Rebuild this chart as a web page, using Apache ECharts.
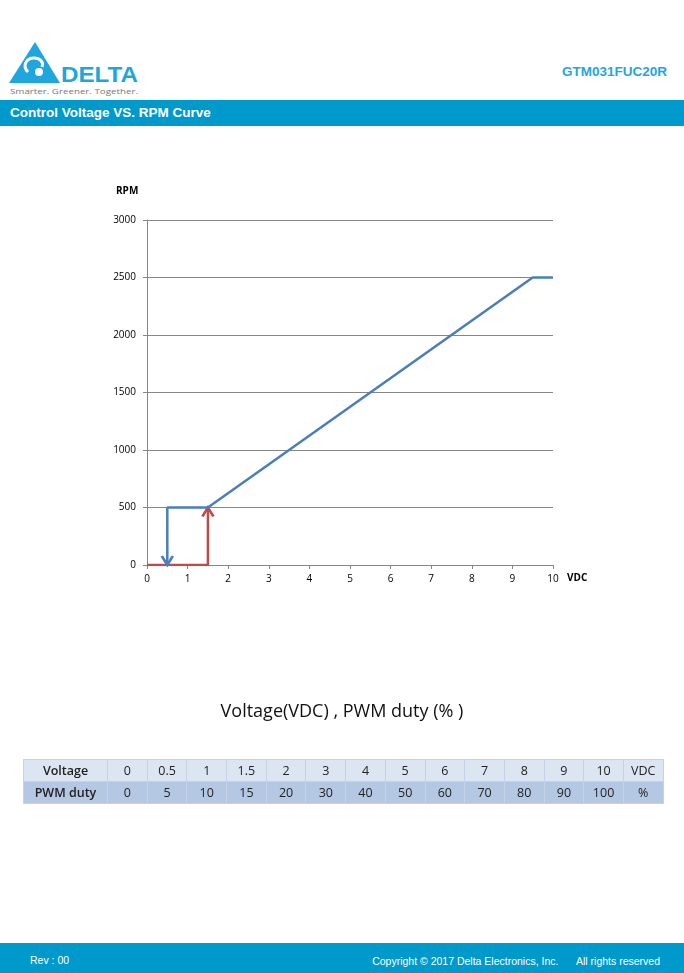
<!DOCTYPE html>
<html><head><meta charset="utf-8">
<script src="https://cdn.jsdelivr.net/npm/echarts@6/dist/echarts.min.js"></script>
<style>
html,body{margin:0;padding:0;background:#fff;}
body{width:684px;height:973px;position:relative;overflow:hidden;font-family:"Liberation Sans",Arial,sans-serif;}
#chart{position:absolute;left:0;top:0;width:684px;height:973px;}
.abs{position:absolute;}
#band{left:0;top:100px;width:684px;height:26px;background:#0099CC;color:#fff;font-weight:bold;font-size:13.5px;line-height:26px;padding-left:10px;box-sizing:border-box;}
#model{right:17px;top:64px;color:#1FA6DF;font-weight:bold;font-size:13.5px;}
#foot{left:0;top:943px;width:684px;height:30px;background:#0099CC;color:#fff;font-size:10.5px;}
#title{left:0;top:698px;width:684px;text-align:center;font-family:"Open Sans",sans-serif;font-size:18px;color:#111;}
table{position:absolute;left:23px;top:759px;border-collapse:collapse;font-family:"Open Sans",sans-serif;font-size:12.5px;color:#222;table-layout:fixed;}
td{border:1px solid #C5D3E8;text-align:center;height:21px;padding:0;}
tr.h td{background:#DCE6F2;}
tr.d td{background:#B4C8E4;}
</style></head><body>
<svg class="abs" style="left:0;top:30px" width="160" height="70">
  <polygon points="35,12 60,53 9,53" fill="#1FA6DF"/>
  <path d="M28,42 C22,36 26,28 34,28 C40,28 44,32 42,37" fill="none" stroke="#fff" stroke-width="3"/>
  <circle cx="39" cy="42" r="4" fill="#fff"/>
  <text x="61" y="52" font-family="Liberation Sans,Arial" font-weight="bold" font-size="22" fill="#1FA6DF" textLength="77" lengthAdjust="spacingAndGlyphs">DELTA</text>
  <text x="10" y="64" font-family="Open Sans,sans-serif" font-size="8" fill="#777" textLength="128" lengthAdjust="spacingAndGlyphs">Smarter.  Greener.  Together.</text>
</svg>
<div id="model" class="abs">GTM031FUC20R</div>
<div id="band" class="abs">Control Voltage VS. RPM Curve</div>
<div id="chart"></div>
<div id="title" class="abs">Voltage(VDC) , PWM duty (% )</div>
<table id="tbl"></table>
<div id="foot" class="abs">
  <span class="abs" style="left:30px;top:11px">Rev : 00</span>
  <span class="abs" style="right:24px;top:12px">Copyright © 2017 Delta Electronics, Inc.&nbsp;&nbsp;&nbsp;&nbsp;&nbsp;&nbsp;All rights reserved</span>
</div>
<script>
// Data
const voltageRow = ["Voltage","0","0.5","1","1.5","2","3","4","5","6","7","8","9","10","VDC"];
const pwmRow = ["PWM duty","0","5","10","15","20","30","40","50","60","70","80","90","100","%"];
const blueX = [0.5, 0.5, 1.5, 9.5, 10];
const blueY = [0, 500, 500, 2500, 2500];
const redX = [0, 1.5, 1.5];
const redY = [0, 0, 500];
const xTicks = [0,1,2,3,4,5,6,7,8,9,10];
const yTicks = [0,500,1000,1500,2000,2500,3000];

// Table
const tbl = document.getElementById('tbl');
let html = '<colgroup><col style="width:84px">';
for (let i = 1; i < voltageRow.length; i++) html += '<col style="width:39.7px">';
html += '</colgroup>';
html += '<tr class="h">' + voltageRow.map((v,i) => '<td' + (i===0?' style="font-weight:600"':'') + '>' + v + '</td>').join('') + '</tr>';
html += '<tr class="d">' + pwmRow.map((v,i) => '<td' + (i===0?' style="font-weight:600"':'') + '>' + v + '</td>').join('') + '</tr>';
tbl.innerHTML = html;

const BLUE = '#4A7EBB', RED = '#BE4B48';
const downArrow = 'path://M0,0 L6,9 L12,0';
const upArrow = 'path://M0,9 L6,0 L12,9';

const blueData = blueX.map((x,i) => {
  const d = {value:[x, blueY[i]]};
  if (i === 0) {
    d.symbol = downArrow; d.symbolSize = [11,9]; d.symbolOffset = [0,-4.5];
    d.itemStyle = {color:'rgba(0,0,0,0)', borderColor:BLUE, borderWidth:2.5};
  }
  return d;
});
const redData = redX.map((x,i) => {
  const d = {value:[x, redY[i]]};
  if (i === redX.length - 1) {
    d.symbol = upArrow; d.symbolSize = [11,9]; d.symbolOffset = [0,4.5];
    d.itemStyle = {color:'rgba(0,0,0,0)', borderColor:RED, borderWidth:2.5};
  }
  return d;
});

const chart = echarts.init(document.getElementById('chart'), null, {renderer:'canvas'});
const labelFont = {fontFamily:'Open Sans, sans-serif', fontSize:10, color:'#000'};
chart.setOption({
  animation:false,
  grid:{left:147, top:220, width:406, height:345, containLabel:false},
  xAxis:{type:'value', min:xTicks[0], max:xTicks[xTicks.length-1], interval:1,
    axisLine:{show:true, lineStyle:{color:'#868686', width:1}},
    axisTick:{show:true, length:4, lineStyle:{color:'#868686'}},
    axisLabel:Object.assign({margin:9, formatter:v => String(v)}, labelFont),
    splitLine:{show:false}},
  yAxis:{type:'value', min:yTicks[0], max:yTicks[yTicks.length-1], interval:500,
    axisLine:{show:true, lineStyle:{color:'#868686', width:1}},
    axisTick:{show:true, length:4, lineStyle:{color:'#868686'}},
    axisLabel:Object.assign({margin:11, formatter:v => String(v)}, labelFont),
    splitLine:{show:true, lineStyle:{color:'#868686', width:1}}},
  graphic:[
    {type:'text', left:116, top:186, style:{text:'RPM', font:'bold 10px "Open Sans", sans-serif', fill:'#000'}},
    {type:'text', left:567, top:573, style:{text:'VDC', font:'bold 10px "Open Sans", sans-serif', fill:'#000'}}
  ],
  series:[
    {type:'line', data:redData, symbol:'none', showSymbol:true, color:RED,
      lineStyle:{color:RED, width:2.5}, z:3},
    {type:'line', data:blueData, symbol:'none', showSymbol:true, color:BLUE,
      lineStyle:{color:BLUE, width:2.5}, z:4}
  ]
});
</script>
</body></html>
